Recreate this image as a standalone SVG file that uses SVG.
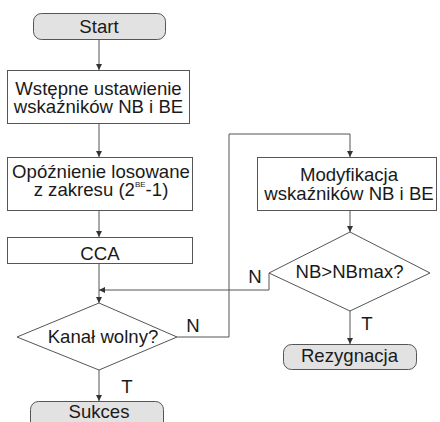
<svg xmlns="http://www.w3.org/2000/svg" width="440" height="422" viewBox="0 0 440 422">
<defs>
<marker id="ah" viewBox="0 0 10 10" refX="10" refY="5" markerWidth="6" markerHeight="6" markerUnits="userSpaceOnUse" orient="auto">
<path d="M0,0 L10,5 L0,10 z" fill="#333"/>
</marker>
<style>
.t{font-family:"Liberation Sans",Arial,sans-serif;font-size:18.6px;fill:#1a1a1a;text-anchor:middle}
.box{fill:#fff;stroke:#555;stroke-width:1}
.term{fill:#e2e2e2;stroke:#555;stroke-width:1}
.c{fill:none;stroke:#555;stroke-width:1}
</style>
</defs>
<rect width="440" height="422" fill="#fff"/>
<g id="connectors">
<path class="c" d="M99,39 V70" marker-end="url(#ah)"/>
<path class="c" d="M99,123 V157" marker-end="url(#ah)"/>
<path class="c" d="M99,210 V237" marker-end="url(#ah)"/>
<path class="c" d="M99,263 V303" marker-end="url(#ah)"/>
<path class="c" d="M99,370 V401" marker-end="url(#ah)"/>
<path class="c" d="M177,337 H229 V134 H350 V157" marker-end="url(#ah)"/>
<path class="c" d="M350,210 V232" marker-end="url(#ah)"/>
<path class="c" d="M350,311 V344" marker-end="url(#ah)"/>
<path class="c" d="M269,273 V290 H99" marker-end="url(#ah)"/>
<text class="t" x="193" y="332">N</text>
<text class="t" x="127" y="393">T</text>
<text class="t" x="255" y="283">N</text>
<text class="t" x="367" y="330">T</text>
</g>
<g id="start">
<rect class="term" x="33.5" y="13.5" width="132" height="26" rx="8"/>
<text class="t" x="99" y="33">Start</text>
</g>
<g id="init">
<rect class="box" x="7.5" y="70.5" width="182" height="53"/>
<text class="t" x="98.5" y="95">Wstępne ustawienie</text>
<text class="t" x="98.5" y="113">wskaźników NB i BE</text>
</g>
<g id="delay">
<rect class="box" x="7.5" y="157.5" width="185" height="53"/>
<text class="t" x="101" y="178">Opóźnienie losowane</text>
<text class="t" x="101" y="196">z zakresu (2<tspan font-size="8" dy="-9">BE</tspan><tspan dy="9">-1)</tspan></text>
</g>
<g id="cca">
<rect class="box" x="7.5" y="237.5" width="185" height="26"/>
<text class="t" x="100" y="260">CCA</text>
</g>
<g id="kanal">
<polygon class="box" points="99,303 177,337 99,370 17,337"/>
<text class="t" x="103" y="343">Kanał wolny?</text>
</g>
<g id="sukces">
<rect class="term" x="30.5" y="401.5" width="133" height="30" rx="8"/>
<text class="t" x="99" y="418">Sukces</text>
</g>
<g id="modyf">
<rect class="box" x="257.5" y="157.5" width="179" height="53"/>
<text class="t" x="349" y="181">Modyfikacja</text>
<text class="t" x="349" y="200">wskaźników NB i BE</text>
</g>
<g id="nbmax">
<polygon class="box" points="350,232 430,273 350,311 269,273"/>
<text class="t" x="349.5" y="278">NB&gt;NBmax?</text>
</g>
<g id="rezygnacja">
<rect class="term" x="283.5" y="344.5" width="133" height="25" rx="8"/>
<text class="t" x="349.5" y="362">Rezygnacja</text>
</g>
</svg>
